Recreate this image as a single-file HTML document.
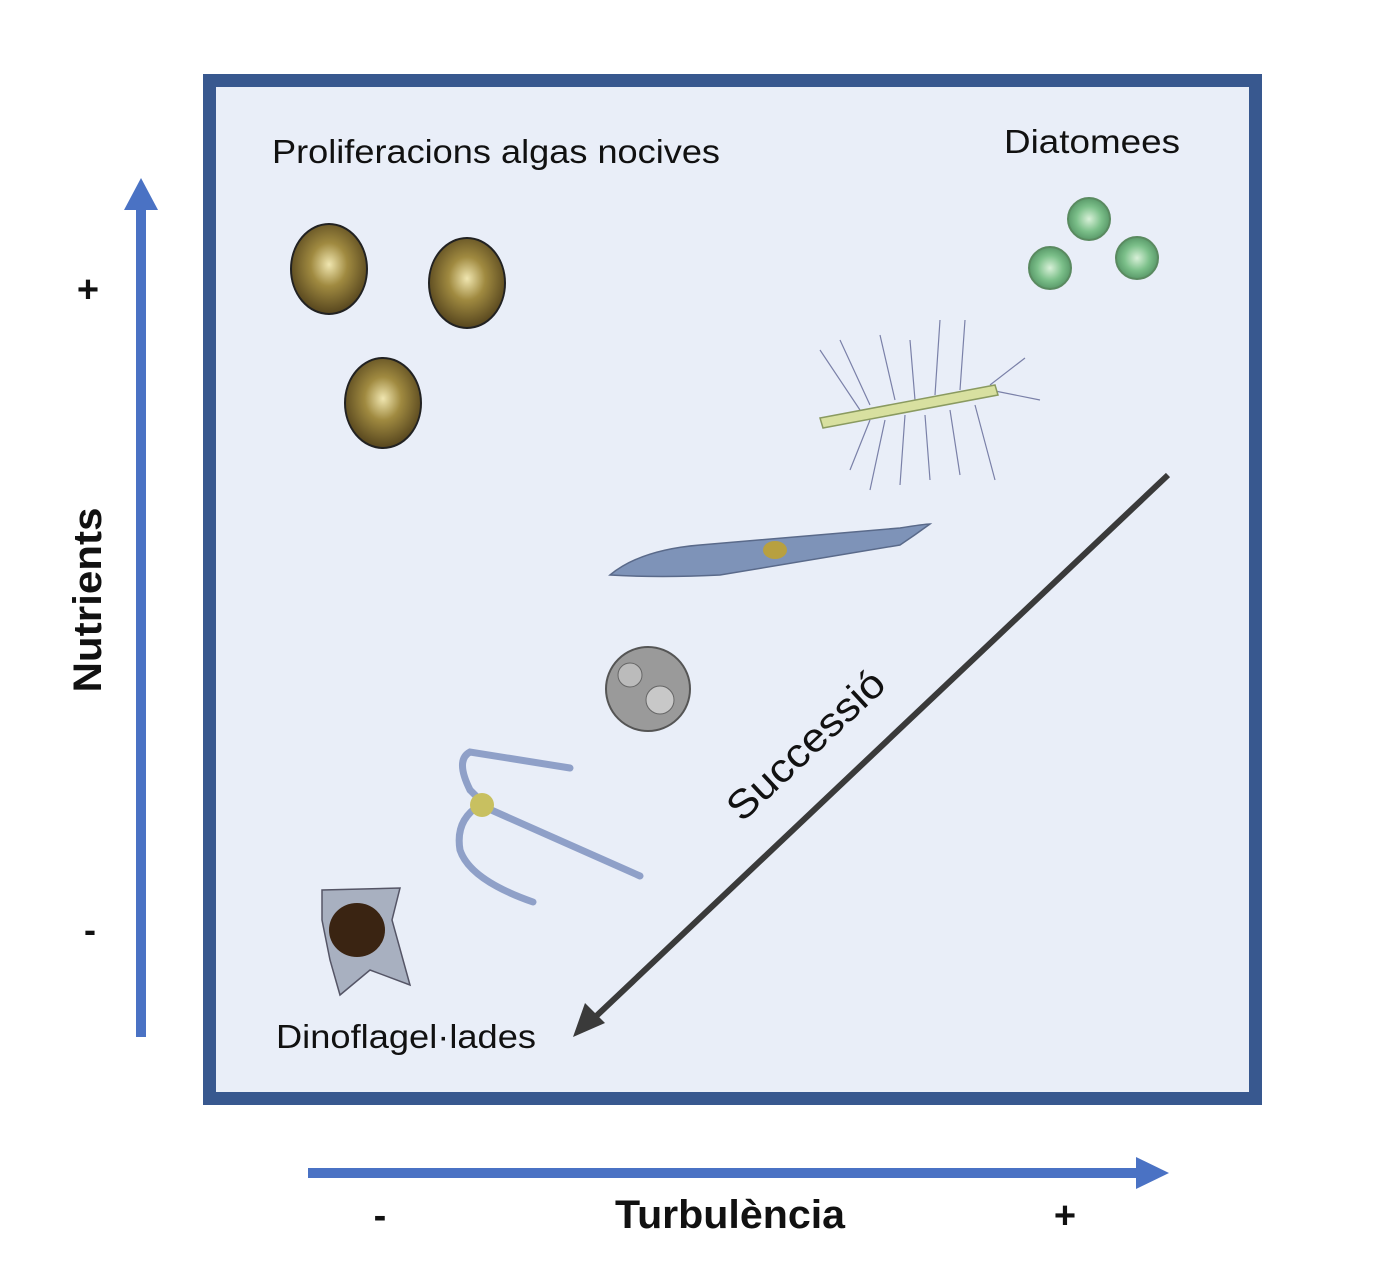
<!DOCTYPE html>
<html><head><meta charset="utf-8"><style>
html,body{margin:0;padding:0;background:#fff}
svg{display:block}
text{font-family:"Liberation Sans","DejaVu Sans",sans-serif}
</style></head><body>
<svg width="1384" height="1274" viewBox="0 0 1384 1274">
<defs>
<radialGradient id="dino" cx="50%" cy="45%" r="60%"><stop offset="0" stop-color="#f0e6b0"/><stop offset="0.4" stop-color="#a08a40"/><stop offset="1" stop-color="#4a3a18"/></radialGradient>
<radialGradient id="diat" cx="50%" cy="50%" r="50%"><stop offset="0" stop-color="#d8f0d8"/><stop offset="0.6" stop-color="#7cc08a"/><stop offset="1" stop-color="#5a9a6a"/></radialGradient>
</defs>
<rect x="209.5" y="80.5" width="1046" height="1018" fill="#e9eef8" stroke="#38588f" stroke-width="13"/>
<text x="272" y="163" font-size="33" fill="#111" textLength="448" lengthAdjust="spacingAndGlyphs">Proliferacions algas nocives</text>
<text x="1004" y="153" font-size="33" fill="#111" textLength="176" lengthAdjust="spacingAndGlyphs">Diatomees</text>
<text x="276" y="1048" font-size="33" fill="#111" textLength="260" lengthAdjust="spacingAndGlyphs">Dinoflagel·lades</text>
<line x1="141" y1="1037" x2="141" y2="205" stroke="#4a72c4" stroke-width="10"/>
<polygon points="124,210 158,210 141,178" fill="#4a72c4"/>
<text x="101" y="600" font-size="40" font-weight="bold" fill="#111" text-anchor="middle" transform="rotate(-90 101 600)" textLength="185" lengthAdjust="spacingAndGlyphs">Nutrients</text>
<text x="88" y="302" font-size="38" font-weight="bold" fill="#111" text-anchor="middle">+</text>
<text x="90" y="942" font-size="36" font-weight="bold" fill="#111" text-anchor="middle">-</text>
<line x1="308" y1="1173" x2="1140" y2="1173" stroke="#4a72c4" stroke-width="10"/>
<polygon points="1136,1157 1136,1189 1169,1173" fill="#4a72c4"/>
<text x="730" y="1228" font-size="40" font-weight="bold" fill="#111" text-anchor="middle" textLength="230" lengthAdjust="spacingAndGlyphs">Turbulència</text>
<text x="380" y="1228" font-size="38" font-weight="bold" fill="#111" text-anchor="middle">-</text>
<text x="1065" y="1228" font-size="38" font-weight="bold" fill="#111" text-anchor="middle">+</text>
<line x1="1168" y1="475" x2="590" y2="1022" stroke="#3a3a3a" stroke-width="6"/>
<polygon points="573,1037 585,1003 605,1023" fill="#3a3a3a"/>
<text x="815" y="755" font-size="40" fill="#111" text-anchor="middle" transform="rotate(-43 815 755)" textLength="200" lengthAdjust="spacingAndGlyphs">Successió</text>
<g stroke="#222" stroke-width="2" fill="url(#dino)">
<ellipse cx="329" cy="269" rx="38" ry="45"/>
<ellipse cx="467" cy="283" rx="38" ry="45"/>
<ellipse cx="383" cy="403" rx="38" ry="45"/>
</g>
<g stroke="#5a8a60" stroke-width="2" fill="url(#diat)">
<circle cx="1089" cy="219" r="21"/>
<circle cx="1050" cy="268" r="21"/>
<circle cx="1137" cy="258" r="21"/>
</g>
<g stroke="#7a80a8" stroke-width="1.2" fill="none">
<path d="M820 350 L860 410 M840 340 L870 405 M880 335 L895 400 M910 340 L915 400 M940 320 L935 395 M965 320 L960 390 M850 470 L870 420 M870 490 L885 420 M900 485 L905 415 M930 480 L925 415 M960 475 L950 410 M995 480 L975 405 M990 390 L1040 400 M990 385 L1025 358"/>
</g>
<path d="M820 418 L995 385 L998 395 L823 428 Z" fill="#d8e0a0" stroke="#8a9a60" stroke-width="1.5"/>
<path d="M610 575 Q640 550 700 545 L900 528 Q925 524 930 524 Q915 535 900 545 L720 575 Q660 578 610 575 Z" fill="#7e93b8" stroke="#5a6a8a" stroke-width="1.5"/>
<ellipse cx="775" cy="550" rx="12" ry="9" fill="#b8a040"/>
<circle cx="648" cy="689" r="42" fill="#9a9a9a" stroke="#555" stroke-width="2"/>
<circle cx="660" cy="700" r="14" fill="#c8c8c8" stroke="#666"/>
<circle cx="630" cy="675" r="12" fill="#bbb" stroke="#666"/>
<g fill="none" stroke="#8fa0c8" stroke-width="7" stroke-linecap="round">
<path d="M570 768 Q520 760 470 752 Q455 760 470 790 L480 800"/>
<path d="M480 805 Q455 820 460 850 Q470 880 533 902"/>
<path d="M480 805 L640 876"/>
</g>
<circle cx="482" cy="805" r="12" fill="#c8c060"/>
<path d="M322 890 L400 888 L392 920 L410 985 L370 970 L340 995 L330 960 L322 920 Z" fill="#a8b0c0" stroke="#556" stroke-width="1.5"/>
<ellipse cx="357" cy="930" rx="28" ry="27" fill="#3a2412"/>
</svg>
</body></html>
